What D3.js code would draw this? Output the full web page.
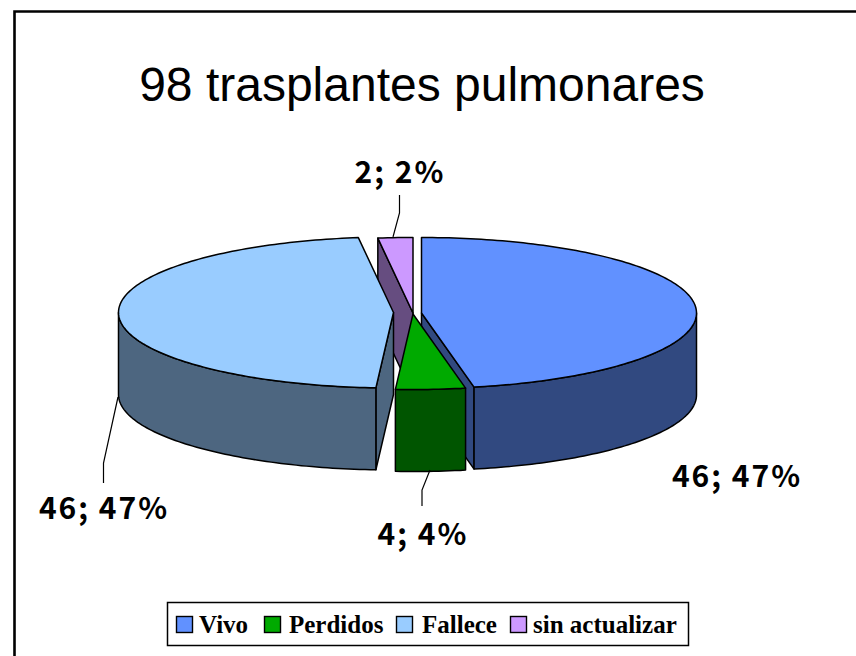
<!DOCTYPE html>
<html><head><meta charset="utf-8">
<script src="https://cdn.jsdelivr.net/npm/d3@7"></script>
<style>html,body{margin:0;padding:0;background:#fff;overflow:hidden}svg{display:block}</style>
</head><body><div id="chart"></div>
<script>
const categories = ["Vivo","Perdidos","Fallece","sin actualizar"];
const values = [46,4,46,2];
const percents = [47,4,47,2];
const colors = ["#6191ff","#00aa00","#99ccff","#cc99ff"];
const titleText = "98 trasplantes pulmonares";

const W=856,H=656;
const svg=d3.select("#chart").append("svg").attr("width",W).attr("height",H);
svg.append("path").attr("d","M14.5,"+H+"V11.5H"+W)
  .attr("fill","none").attr("stroke","#000").attr("stroke-width",2.6);
svg.append("text").attr("x",422).attr("y",101).attr("text-anchor","middle")
  .attr("font-family","'Liberation Sans',Arial,sans-serif").attr("font-size",48).text(titleText);

// Exploded-pie layout
const rx=275, ry=75.5, depth=82;
const centers=[[421.5,313],[413,314],[393.5,312.5],[413,313]];
const pie=d3.pie().sort(null)(values);
const scaleX=d3.scaleLinear().domain([-1,1]).range([-rx,rx]);
const scaleY=d3.scaleLinear().domain([-1,1]).range([-ry,ry]);
const pt=(i,a,dz=0)=>[centers[i][0]+scaleX(Math.sin(a)), centers[i][1]-scaleY(Math.cos(a))+dz];
const rim=(i,a0,a1,dz=0)=>{
  const n=Math.max(2,Math.ceil(Math.abs(a1-a0)/0.02));
  return d3.range(n+1).map(k=>pt(i,a0+(a1-a0)*k/n,dz));
};
const line=d3.line();
const dark=c=>{const r=d3.rgb(c);return d3.rgb(r.r*.5,r.g*.5,r.b*.5).formatHex();};
const g=svg.append("g").attr("stroke","#000").attr("stroke-width",1.5).attr("stroke-linejoin","round");
const visibleCut={0:"end",2:"start",3:"start"};
[3,0,2,1].forEach(i=>{
  const a0=pie[i].startAngle,a1=pie[i].endAngle,c=centers[i],col=colors[i],sd=dark(col);
  const apexB=[c[0],c[1]+depth];
  if(visibleCut[i]){
    const a=visibleCut[i]==="start"?a0:a1;
    g.append("path").attr("d",line([c,pt(i,a),pt(i,a,depth),apexB])+"Z").attr("fill",sd);
  }
  const w0=Math.max(a0,Math.PI/2), w1=Math.min(a1,3*Math.PI/2);
  if(w1>w0){
    g.append("path").attr("d",line(rim(i,w0,w1).concat(rim(i,w1,w0,depth)))+"Z").attr("fill",sd);
  }
  g.append("path").attr("d",line([c].concat(rim(i,a0,a1)))+"Z").attr("fill",col);
});

// leader lines and data labels
const leaderPaths=[[[430,470],[422,490],[422,506]],[[118,397],[103.5,463],[103.5,483]],[[399.5,195],[399.5,213],[393,237]]];
svg.append("g").selectAll("path").data(leaderPaths).join("path")
  .attr("d",d=>line(d)).attr("fill","none").attr("stroke","#000").attr("stroke-width",1.2);
const labelPos=[[737,487],[423,545],[104,519],[400,183]];
svg.append("g").selectAll("text").data(categories).join("text")
  .attr("x",(d,i)=>labelPos[i][0]).attr("y",(d,i)=>labelPos[i][1])
  .attr("text-anchor","middle").attr("font-family","'Noto Sans CJK KR','DejaVu Sans',sans-serif")
  .attr("font-size",30).attr("font-weight","bold").attr("letter-spacing",2)
  .text((d,i)=>`${values[i]}; ${percents[i]}%`);

// legend
svg.append("rect").attr("x",167.5).attr("y",602.5).attr("width",521).attr("height",43)
  .attr("fill","#fff").attr("stroke","#000").attr("stroke-width",1.5);
const legX=[176,264,396,510], legTX=[199,289,422,533];
const lg=svg.append("g");
categories.forEach((c,i)=>{
  lg.append("rect").attr("x",legX[i]+.5).attr("y",616.5).attr("width",16).attr("height",16)
    .attr("fill",colors[i]).attr("stroke","#000").attr("stroke-width",1.4);
  lg.append("text").attr("x",legTX[i]).attr("y",633)
    .attr("font-family","'Liberation Serif',serif").attr("font-weight","bold").attr("font-size",25).text(c);
});
</script></body></html>
